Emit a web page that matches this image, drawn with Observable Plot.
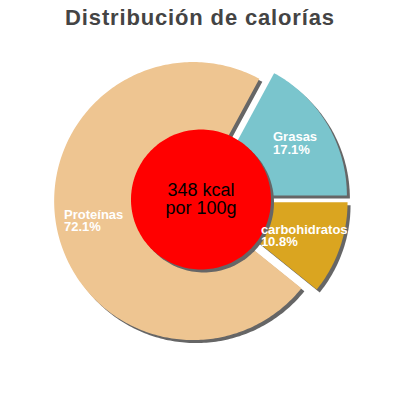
<!DOCTYPE html>
<html><head><meta charset="utf-8">
<script src="https://cdn.jsdelivr.net/npm/d3@7"></script>
<script src="https://cdn.jsdelivr.net/npm/@observablehq/plot@0.6"></script>
<style>
html,body{margin:0;padding:0;background:#fff;font-family:"Liberation Sans",Arial,sans-serif}
#title{height:40px;box-sizing:border-box;padding-top:3px;line-height:30px;font-size:22px;letter-spacing:0.85px;font-weight:bold;color:#444;text-align:center}
#chart svg{display:block}
</style></head><body>
<div id="title">Distribución de calorías</div>
<div id="chart"></div>
<script>
// ---- data ----
const categories = ["Grasas", "carbohidratos", "Proteínas"];
const percents = [17.1, 10.8, 72.1];
const colors = ["#7ac5cd", "#daa520", "#eec591"];
const energyLines = ["348 kcal", "por 100g"];

// ---- layout ----
const W = 400, H = 360, RPX = 139, CX = 200.5, CY = 159;
const explode = 8 / RPX, shadow = 3 / RPX, holeR = 70 / RPX, labelFactor = 0.73;
const fontFamily = "Liberation Sans, Arial, sans-serif";
const labelSize = 13;
const rad = d => d * Math.PI / 180;
const pt = (deg, r, ox = 0, oy = 0) => ({x: ox + r * Math.sin(rad(deg)), y: oy + r * Math.cos(rad(deg))});

const ctx = document.createElement("canvas").getContext("2d");
ctx.font = `bold ${labelSize}px ${fontFamily}`;
const textWidth = s => ctx.measureText(s).width;

let a = 90 - percents[0] * 3.6;
const slices = categories.map((name, i) => {
  const a0 = a, a1 = a + percents[i] * 3.6; a = a1;
  const mid = (a0 + a1) / 2;
  const o = pt(mid, explode);
  const pts = [{x: o.x, y: o.y}];
  const n = Math.max(2, Math.ceil(a1 - a0));
  for (let k = 0; k <= n; k++) pts.push(pt(a0 + (a1 - a0) * k / n, 1, o.x, o.y));
  const text = `${name}\n${percents[i].toFixed(1)}%`;
  const lc = pt(mid, labelFactor, o.x, o.y);
  const w = Math.max(...text.split("\n").map(textWidth));
  return {name, color: colors[i], pts, label: {x: lc.x - w / 2 / RPX, y: lc.y, text}};
});

const circle = [];
for (let k = 0; k <= 360; k += 2) circle.push(pt(k, holeR));
const shift = p => p.map(d => ({x: d.x + shadow, y: d.y - shadow}));

const marks = [];
for (const s of slices) marks.push(Plot.line(shift(s.pts), {x: "x", y: "y", fill: "#666", stroke: "none", curve: "linear-closed"}));
for (const s of slices) marks.push(Plot.line(s.pts, {x: "x", y: "y", fill: s.color, stroke: "none", curve: "linear-closed"}));
marks.push(Plot.line(shift(circle), {x: "x", y: "y", fill: "#666", stroke: "none", curve: "linear-closed"}));
marks.push(Plot.line(circle, {x: "x", y: "y", fill: "#ff0000", stroke: "none", curve: "linear-closed"}));
marks.push(Plot.text(slices.map(s => s.label), {x: "x", y: "y", text: "text", fill: "white", fontSize: labelSize,
  fontWeight: "bold", fontFamily, textAnchor: "start", lineAnchor: "middle", lineHeight: 0.95}));
marks.push(Plot.text([{x: 0, y: 0, text: energyLines.join("\n")}], {x: "x", y: "y", text: "text", fill: "black",
  fontSize: 18, fontFamily, textAnchor: "middle", lineAnchor: "middle", lineHeight: 1}));

const svg = Plot.plot({
  width: W, height: H, margin: 0,
  x: {domain: [-CX / RPX, (W - CX) / RPX], axis: null},
  y: {domain: [-(H - CY) / RPX, CY / RPX], axis: null},
  style: {background: "white", fontFamily},
  marks
});
document.getElementById("chart").appendChild(svg);
</script>
</body></html>
